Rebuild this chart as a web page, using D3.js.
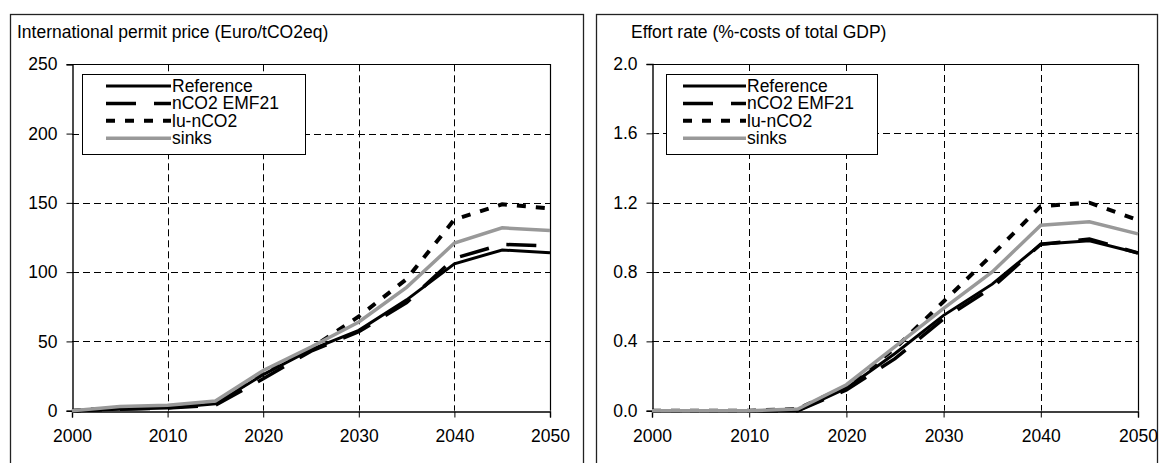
<!DOCTYPE html>
<html>
<head>
<meta charset="utf-8">
<script src="https://cdn.jsdelivr.net/npm/d3@7"></script>
<style>
    body { margin: 0; background: #fff; }
    svg text { font-family: "Liberation Sans", Arial, sans-serif; font-size: 17.5px; fill: #000; }
</style>
</head>
<body>
<div id="chart"></div>
<script>
// data
const years = [2000, 2005, 2010, 2015, 2020, 2025, 2030, 2035, 2040, 2045, 2050];
const seriesNames = ["Reference", "nCO2 EMF21", "lu-nCO2", "sinks"];

// international permit price (Euro/tCO2eq)
const priceReference = [0, 1, 2, 5, 26, 44, 58, 80, 106, 116, 114];
const priceNco2 = [0, 1, 2, 4, 23, 43, 57, 78, 110, 120, 119];
const priceLuNco2 = [0, 2, 3, 6, 27, 45, 68, 95, 138, 149, 146];
const priceSinks = [0, 3, 4, 7, 29, 46, 64, 89, 121, 132, 130];

// effort rate (%-costs of total GDP)
const effortReference = [0, 0, 0, 0, 0.13, 0.33, 0.55, 0.73, 0.96, 0.98, 0.91];
const effortNco2 = [0, 0, 0, 0, 0.12, 0.30, 0.53, 0.71, 0.96, 0.99, 0.91];
const effortLuNco2 = [0, 0, 0, 0.01, 0.14, 0.36, 0.63, 0.90, 1.18, 1.20, 1.10];
const effortSinks = [0, 0, 0, 0.01, 0.15, 0.37, 0.59, 0.80, 1.07, 1.09, 1.02];

const yearTicks = [2000, 2010, 2020, 2030, 2040, 2050];
const priceTicks = [0, 50, 100, 150, 200, 250];
const effortTicks = [0, 0.4, 0.8, 1.2, 1.6, 2.0];

// line styles per series
const lineStyles = {
    "Reference": { color: "#000", width: 3, dash: null },
    "nCO2 EMF21": { color: "#000", width: 3.5, dash: "30,18" },
    "lu-nCO2": { color: "#000", width: 4, dash: "9,10" },
    "sinks": { color: "#999", width: 3.5, dash: null }
};

const svg = d3.select("#chart")
    .append("svg")
    .attr("width", 1160)
    .attr("height", 463);

function drawPanel(cfg) {
    const g = svg.append("g");

    // outer frame
    g.append("rect")
        .attr("x", cfg.box.x + 0.5)
        .attr("y", cfg.box.y + 0.5)
        .attr("width", cfg.box.w)
        .attr("height", cfg.box.h)
        .attr("fill", "none")
        .attr("stroke", "#222")
        .attr("stroke-width", 1.3);

    g.append("text")
        .attr("x", cfg.titleX)
        .attr("y", 38)
        .text(cfg.title);

    const x = d3.scaleLinear().domain([2000, 2050]).range([cfg.plot.left, cfg.plot.right]);
    const y = d3.scaleLinear().domain(cfg.yDomain).range([cfg.plot.bottom, cfg.plot.top]);

    // dashed grid
    g.selectAll(".hgrid")
        .data(cfg.yTicks.slice(1, -1))
        .enter()
        .append("line")
        .attr("x1", cfg.plot.left)
        .attr("x2", cfg.plot.right)
        .attr("y1", (d) => Math.round(y(d)) + 0.5)
        .attr("y2", (d) => Math.round(y(d)) + 0.5)
        .attr("stroke", "#000")
        .attr("stroke-dasharray", "7,4");

    g.selectAll(".vgrid")
        .data(yearTicks.slice(1, -1))
        .enter()
        .append("line")
        .attr("x1", (d) => Math.round(x(d)) + 0.5)
        .attr("x2", (d) => Math.round(x(d)) + 0.5)
        .attr("y1", cfg.plot.top)
        .attr("y2", cfg.plot.bottom)
        .attr("stroke", "#000")
        .attr("stroke-dasharray", "7,4");

    // plot area border (top and right)
    g.append("path")
        .attr("d", `M${cfg.plot.left},${Math.round(cfg.plot.top) + 0.5}H${Math.round(cfg.plot.right) + 0.5}V${cfg.plot.bottom}`)
        .attr("fill", "none")
        .attr("stroke", "#000")
        .attr("stroke-width", 1.2);

    // axes
    const yAxis = d3.axisLeft(y)
        .tickValues(cfg.yTicks)
        .tickFormat(cfg.format)
        .tickSize(6)
        .tickPadding(9);
    const yG = g.append("g")
        .attr("transform", `translate(${Math.round(cfg.plot.left) + 0.5},0)`)
        .call(yAxis);

    const xAxis = d3.axisBottom(x)
        .tickValues(yearTicks)
        .tickFormat(d3.format("d"))
        .tickSize(6)
        .tickPadding(12);
    const xG = g.append("g")
        .attr("transform", `translate(0,${Math.round(cfg.plot.bottom) + 0.5})`)
        .call(xAxis);

    [yG, xG].forEach((a) => {
        a.select(".domain").attr("stroke", "#000").attr("stroke-width", 1.4);
        a.selectAll(".tick line").attr("stroke", "#000");
        a.selectAll("text")
            .attr("font-family", "Liberation Sans, Arial, sans-serif")
            .attr("font-size", 17.5)
            .attr("fill", "#000");
    });

    // series
    const line = d3.line()
        .x((d, i) => x(years[i]))
        .y((d) => y(d));

    seriesNames.forEach((name, k) => {
        const s = lineStyles[name];
        g.append("path")
            .datum(cfg.series[k])
            .attr("d", line)
            .attr("fill", "none")
            .attr("stroke", s.color)
            .attr("stroke-width", s.width)
            .attr("stroke-dasharray", s.dash);
    });

    // legend
    const lg = g.append("g");
    lg.append("rect")
        .attr("x", cfg.legend.x + 0.5)
        .attr("y", cfg.legend.y + 0.5)
        .attr("width", cfg.legend.w)
        .attr("height", cfg.legend.h)
        .attr("fill", "#fff")
        .attr("stroke", "#000");

    seriesNames.forEach((name, k) => {
        const s = lineStyles[name];
        const ry = cfg.legend.y + 12 + k * 17.4;
        lg.append("line")
            .attr("x1", cfg.legend.lineX0)
            .attr("x2", cfg.legend.lineX1)
            .attr("y1", ry)
            .attr("y2", ry)
            .attr("stroke", s.color)
            .attr("stroke-width", s.width)
            .attr("stroke-dasharray", s.dash);
        lg.append("text")
            .attr("x", cfg.legend.lineX1 + 1)
            .attr("y", ry + 6)
            .text(name);
    });
}

drawPanel({
    box: { x: 10, y: 14, w: 573, h: 470 },
    plot: { left: 72, right: 550, top: 64.3, bottom: 410.7 },
    title: "International permit price (Euro/tCO2eq)",
    titleX: 17,
    yDomain: [0, 250],
    yTicks: priceTicks,
    format: d3.format("d"),
    series: [priceReference, priceNco2, priceLuNco2, priceSinks],
    legend: { x: 82, y: 74, w: 223, h: 80, lineX0: 106, lineX1: 171 }
});

drawPanel({
    box: { x: 596, y: 14, w: 561, h: 470 },
    plot: { left: 652, right: 1138, top: 64, bottom: 410.7 },
    title: "Effort rate (%-costs of total GDP)",
    titleX: 631,
    yDomain: [0, 2],
    yTicks: effortTicks,
    format: d3.format(".1f"),
    series: [effortReference, effortNco2, effortLuNco2, effortSinks],
    legend: { x: 666, y: 74, w: 211, h: 80, lineX0: 683, lineX1: 746 }
});
</script>
</body>
</html>
